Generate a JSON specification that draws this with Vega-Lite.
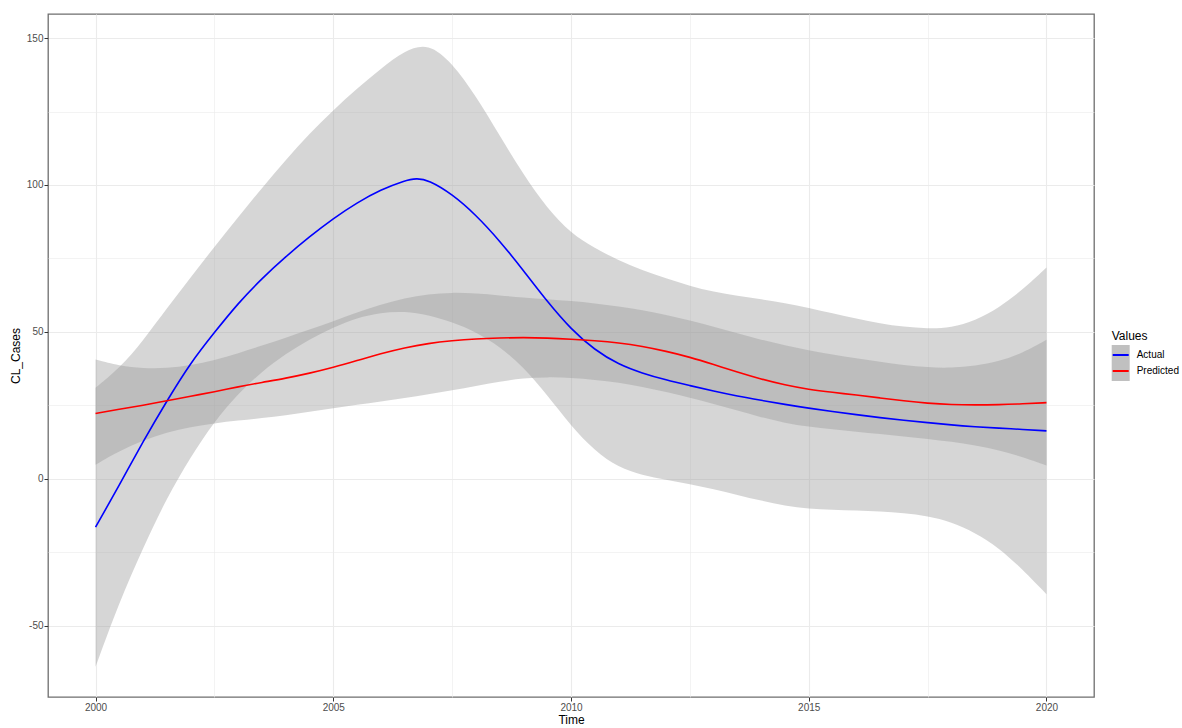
{
  "$schema": "https://vega.github.io/schema/vega-lite/v6.json",
  "width": 1046,
  "height": 683,
  "autosize": {"type": "none"},
  "padding": {"left": 48, "top": 14, "right": 88, "bottom": 31},
  "background": "white",
  "config": {
    "font": "Liberation Sans",
    "view": {"stroke": "#6e6e6e", "strokeWidth": 1.3},
    "axis": {"titleFontWeight": "normal", "titleColor": "#000000", "titleFont": "Liberation Sans", "labelFont": "Liberation Sans"},
    "legend": {"titleFont": "Liberation Sans", "labelFont": "Liberation Sans"}
  },
  "datasets": {
    "lines": [
      {"Time": 2000, "Values": "Actual", "CL_Cases": -16.5},
      {"Time": 2000.5, "Values": "Actual", "CL_Cases": -2.2},
      {"Time": 2001, "Values": "Actual", "CL_Cases": 12.7},
      {"Time": 2001.5, "Values": "Actual", "CL_Cases": 26.5},
      {"Time": 2002, "Values": "Actual", "CL_Cases": 39.5},
      {"Time": 2002.5, "Values": "Actual", "CL_Cases": 49.8},
      {"Time": 2003, "Values": "Actual", "CL_Cases": 59.8},
      {"Time": 2003.5, "Values": "Actual", "CL_Cases": 68.2},
      {"Time": 2004, "Values": "Actual", "CL_Cases": 75.6},
      {"Time": 2004.5, "Values": "Actual", "CL_Cases": 82.4},
      {"Time": 2005, "Values": "Actual", "CL_Cases": 88.6},
      {"Time": 2005.5, "Values": "Actual", "CL_Cases": 94.0},
      {"Time": 2006, "Values": "Actual", "CL_Cases": 98.4},
      {"Time": 2006.5, "Values": "Actual", "CL_Cases": 101.5},
      {"Time": 2006.75, "Values": "Actual", "CL_Cases": 102.3},
      {"Time": 2007, "Values": "Actual", "CL_Cases": 101.7},
      {"Time": 2007.5, "Values": "Actual", "CL_Cases": 96.9},
      {"Time": 2008, "Values": "Actual", "CL_Cases": 89.8},
      {"Time": 2008.5, "Values": "Actual", "CL_Cases": 81.0},
      {"Time": 2009, "Values": "Actual", "CL_Cases": 70.9},
      {"Time": 2009.5, "Values": "Actual", "CL_Cases": 60.3},
      {"Time": 2010, "Values": "Actual", "CL_Cases": 50.9},
      {"Time": 2010.5, "Values": "Actual", "CL_Cases": 43.8},
      {"Time": 2011, "Values": "Actual", "CL_Cases": 38.9},
      {"Time": 2011.5, "Values": "Actual", "CL_Cases": 35.9},
      {"Time": 2012, "Values": "Actual", "CL_Cases": 33.6},
      {"Time": 2012.5, "Values": "Actual", "CL_Cases": 31.7},
      {"Time": 2013, "Values": "Actual", "CL_Cases": 29.8},
      {"Time": 2013.5, "Values": "Actual", "CL_Cases": 28.1},
      {"Time": 2014, "Values": "Actual", "CL_Cases": 26.7},
      {"Time": 2014.5, "Values": "Actual", "CL_Cases": 25.3},
      {"Time": 2015, "Values": "Actual", "CL_Cases": 24.0},
      {"Time": 2015.5, "Values": "Actual", "CL_Cases": 22.9},
      {"Time": 2016, "Values": "Actual", "CL_Cases": 21.8},
      {"Time": 2016.5, "Values": "Actual", "CL_Cases": 20.8},
      {"Time": 2017, "Values": "Actual", "CL_Cases": 19.9},
      {"Time": 2017.5, "Values": "Actual", "CL_Cases": 19.1},
      {"Time": 2018, "Values": "Actual", "CL_Cases": 18.3},
      {"Time": 2018.5, "Values": "Actual", "CL_Cases": 17.7},
      {"Time": 2019, "Values": "Actual", "CL_Cases": 17.2},
      {"Time": 2019.5, "Values": "Actual", "CL_Cases": 16.8},
      {"Time": 2020, "Values": "Actual", "CL_Cases": 16.3},
      {"Time": 2000, "Values": "Predicted", "CL_Cases": 22.2},
      {"Time": 2000.5, "Values": "Predicted", "CL_Cases": 23.7},
      {"Time": 2001, "Values": "Predicted", "CL_Cases": 25.0},
      {"Time": 2001.5, "Values": "Predicted", "CL_Cases": 26.5},
      {"Time": 2002, "Values": "Predicted", "CL_Cases": 28.1},
      {"Time": 2002.5, "Values": "Predicted", "CL_Cases": 29.6},
      {"Time": 2003, "Values": "Predicted", "CL_Cases": 31.3},
      {"Time": 2003.5, "Values": "Predicted", "CL_Cases": 32.8},
      {"Time": 2004, "Values": "Predicted", "CL_Cases": 34.2},
      {"Time": 2004.5, "Values": "Predicted", "CL_Cases": 35.9},
      {"Time": 2005, "Values": "Predicted", "CL_Cases": 37.9},
      {"Time": 2005.5, "Values": "Predicted", "CL_Cases": 40.2},
      {"Time": 2006, "Values": "Predicted", "CL_Cases": 42.6},
      {"Time": 2006.5, "Values": "Predicted", "CL_Cases": 44.6},
      {"Time": 2007, "Values": "Predicted", "CL_Cases": 46.1},
      {"Time": 2007.5, "Values": "Predicted", "CL_Cases": 47.0},
      {"Time": 2008, "Values": "Predicted", "CL_Cases": 47.6},
      {"Time": 2008.5, "Values": "Predicted", "CL_Cases": 47.9},
      {"Time": 2009, "Values": "Predicted", "CL_Cases": 48.1},
      {"Time": 2009.5, "Values": "Predicted", "CL_Cases": 47.9},
      {"Time": 2010, "Values": "Predicted", "CL_Cases": 47.5},
      {"Time": 2010.5, "Values": "Predicted", "CL_Cases": 47.0},
      {"Time": 2011, "Values": "Predicted", "CL_Cases": 46.3},
      {"Time": 2011.5, "Values": "Predicted", "CL_Cases": 45.1},
      {"Time": 2012, "Values": "Predicted", "CL_Cases": 43.4},
      {"Time": 2012.5, "Values": "Predicted", "CL_Cases": 41.4},
      {"Time": 2013, "Values": "Predicted", "CL_Cases": 38.9},
      {"Time": 2013.5, "Values": "Predicted", "CL_Cases": 36.3},
      {"Time": 2014, "Values": "Predicted", "CL_Cases": 33.9},
      {"Time": 2014.5, "Values": "Predicted", "CL_Cases": 31.9},
      {"Time": 2015, "Values": "Predicted", "CL_Cases": 30.4},
      {"Time": 2015.5, "Values": "Predicted", "CL_Cases": 29.4},
      {"Time": 2016, "Values": "Predicted", "CL_Cases": 28.5},
      {"Time": 2016.5, "Values": "Predicted", "CL_Cases": 27.5},
      {"Time": 2017, "Values": "Predicted", "CL_Cases": 26.5},
      {"Time": 2017.5, "Values": "Predicted", "CL_Cases": 25.7},
      {"Time": 2018, "Values": "Predicted", "CL_Cases": 25.2},
      {"Time": 2018.5, "Values": "Predicted", "CL_Cases": 25.1},
      {"Time": 2019, "Values": "Predicted", "CL_Cases": 25.2},
      {"Time": 2019.5, "Values": "Predicted", "CL_Cases": 25.5},
      {"Time": 2020, "Values": "Predicted", "CL_Cases": 25.9}
    ],
    "bands": [
      {"Time": 2000, "Band": "Actual", "lower": -64, "upper": 31},
      {"Time": 2000.5, "Band": "Actual", "lower": -42, "upper": 37.5},
      {"Time": 2001, "Band": "Actual", "lower": -23.5, "upper": 47},
      {"Time": 2001.5, "Band": "Actual", "lower": -6.5, "upper": 58},
      {"Time": 2002, "Band": "Actual", "lower": 7.5, "upper": 68.5},
      {"Time": 2002.5, "Band": "Actual", "lower": 19.5, "upper": 79},
      {"Time": 2003, "Band": "Actual", "lower": 29, "upper": 89},
      {"Time": 2003.5, "Band": "Actual", "lower": 36.5, "upper": 99},
      {"Time": 2004, "Band": "Actual", "lower": 42.5, "upper": 108.5},
      {"Time": 2004.5, "Band": "Actual", "lower": 47.5, "upper": 117.5},
      {"Time": 2005, "Band": "Actual", "lower": 51.5, "upper": 125.5},
      {"Time": 2005.5, "Band": "Actual", "lower": 54.8, "upper": 132.8},
      {"Time": 2006, "Band": "Actual", "lower": 56.6, "upper": 139.6},
      {"Time": 2006.5, "Band": "Actual", "lower": 57, "upper": 145.8},
      {"Time": 2007, "Band": "Actual", "lower": 55.8, "upper": 148.4},
      {"Time": 2007.5, "Band": "Actual", "lower": 53.3, "upper": 141.6},
      {"Time": 2008, "Band": "Actual", "lower": 50, "upper": 130.3},
      {"Time": 2008.5, "Band": "Actual", "lower": 45, "upper": 116.8},
      {"Time": 2009, "Band": "Actual", "lower": 38, "upper": 103.5},
      {"Time": 2009.5, "Band": "Actual", "lower": 28.5, "upper": 92},
      {"Time": 2010, "Band": "Actual", "lower": 18, "upper": 83.5},
      {"Time": 2010.5, "Band": "Actual", "lower": 9.5, "upper": 78.5},
      {"Time": 2011, "Band": "Actual", "lower": 3.8, "upper": 74.3},
      {"Time": 2011.5, "Band": "Actual", "lower": 1.2, "upper": 71},
      {"Time": 2012, "Band": "Actual", "lower": -0.4, "upper": 68.2},
      {"Time": 2012.5, "Band": "Actual", "lower": -1.8, "upper": 65.6},
      {"Time": 2013, "Band": "Actual", "lower": -3.5, "upper": 63.6},
      {"Time": 2013.5, "Band": "Actual", "lower": -5.5, "upper": 62.2},
      {"Time": 2014, "Band": "Actual", "lower": -7.5, "upper": 61.1},
      {"Time": 2014.5, "Band": "Actual", "lower": -9.2, "upper": 59.8},
      {"Time": 2015, "Band": "Actual", "lower": -10.2, "upper": 58.2},
      {"Time": 2015.5, "Band": "Actual", "lower": -10.6, "upper": 56.3},
      {"Time": 2016, "Band": "Actual", "lower": -10.8, "upper": 54.5},
      {"Time": 2016.5, "Band": "Actual", "lower": -11.1, "upper": 52.9},
      {"Time": 2017, "Band": "Actual", "lower": -11.7, "upper": 51.7},
      {"Time": 2017.5, "Band": "Actual", "lower": -12.7, "upper": 51.1},
      {"Time": 2018, "Band": "Actual", "lower": -14.7, "upper": 51.4},
      {"Time": 2018.5, "Band": "Actual", "lower": -18.4, "upper": 53.8},
      {"Time": 2019, "Band": "Actual", "lower": -23.5, "upper": 58.2},
      {"Time": 2019.5, "Band": "Actual", "lower": -30.9, "upper": 64.3},
      {"Time": 2020, "Band": "Actual", "lower": -39.3, "upper": 71.9},
      {"Time": 2000, "Band": "Predicted", "lower": 4.8, "upper": 40.6},
      {"Time": 2000.5, "Band": "Predicted", "lower": 9.4, "upper": 38.4},
      {"Time": 2001, "Band": "Predicted", "lower": 13.1, "upper": 37.6},
      {"Time": 2001.5, "Band": "Predicted", "lower": 15.8, "upper": 37.6},
      {"Time": 2002, "Band": "Predicted", "lower": 17.6, "upper": 38.6},
      {"Time": 2002.5, "Band": "Predicted", "lower": 18.9, "upper": 40.3},
      {"Time": 2003, "Band": "Predicted", "lower": 19.8, "upper": 42.7},
      {"Time": 2003.5, "Band": "Predicted", "lower": 20.6, "upper": 45.3},
      {"Time": 2004, "Band": "Predicted", "lower": 21.6, "upper": 48},
      {"Time": 2004.5, "Band": "Predicted", "lower": 22.8, "upper": 50.8},
      {"Time": 2005, "Band": "Predicted", "lower": 24, "upper": 53.6},
      {"Time": 2005.5, "Band": "Predicted", "lower": 25.2, "upper": 56.6},
      {"Time": 2006, "Band": "Predicted", "lower": 26.3, "upper": 59.3},
      {"Time": 2006.5, "Band": "Predicted", "lower": 27.5, "upper": 61.5},
      {"Time": 2007, "Band": "Predicted", "lower": 28.8, "upper": 62.9},
      {"Time": 2007.5, "Band": "Predicted", "lower": 30.1, "upper": 63.4},
      {"Time": 2008, "Band": "Predicted", "lower": 31.6, "upper": 63.1},
      {"Time": 2008.5, "Band": "Predicted", "lower": 33.1, "upper": 62.4},
      {"Time": 2009, "Band": "Predicted", "lower": 34.2, "upper": 61.7},
      {"Time": 2009.5, "Band": "Predicted", "lower": 34.6, "upper": 61.1},
      {"Time": 2010, "Band": "Predicted", "lower": 34.4, "upper": 60.5},
      {"Time": 2010.5, "Band": "Predicted", "lower": 33.7, "upper": 59.7},
      {"Time": 2011, "Band": "Predicted", "lower": 32.7, "upper": 58.7},
      {"Time": 2011.5, "Band": "Predicted", "lower": 31.3, "upper": 57.4},
      {"Time": 2012, "Band": "Predicted", "lower": 29.6, "upper": 55.8},
      {"Time": 2012.5, "Band": "Predicted", "lower": 27.6, "upper": 53.9},
      {"Time": 2013, "Band": "Predicted", "lower": 25.5, "upper": 51.7},
      {"Time": 2013.5, "Band": "Predicted", "lower": 23.2, "upper": 49.5},
      {"Time": 2014, "Band": "Predicted", "lower": 20.9, "upper": 47.3},
      {"Time": 2014.5, "Band": "Predicted", "lower": 19, "upper": 45.4},
      {"Time": 2015, "Band": "Predicted", "lower": 17.7, "upper": 43.7},
      {"Time": 2015.5, "Band": "Predicted", "lower": 16.8, "upper": 42.2},
      {"Time": 2016, "Band": "Predicted", "lower": 16, "upper": 41},
      {"Time": 2016.5, "Band": "Predicted", "lower": 15.2, "upper": 39.8},
      {"Time": 2017, "Band": "Predicted", "lower": 14.4, "upper": 38.7},
      {"Time": 2017.5, "Band": "Predicted", "lower": 13.6, "upper": 37.9},
      {"Time": 2018, "Band": "Predicted", "lower": 12.6, "upper": 37.7},
      {"Time": 2018.5, "Band": "Predicted", "lower": 11.4, "upper": 38.4},
      {"Time": 2019, "Band": "Predicted", "lower": 9.7, "upper": 39.9},
      {"Time": 2019.5, "Band": "Predicted", "lower": 7.4, "upper": 42.8},
      {"Time": 2020, "Band": "Predicted", "lower": 4.5, "upper": 47.3}
    ]
  },
  "encoding": {
    "x": {
      "field": "Time",
      "type": "quantitative",
      "title": "Time",
      "scale": {"domain": [1999, 2021], "nice": false, "zero": false},
      "axis": {
        "values": [2000, 2002.5, 2005, 2007.5, 2010, 2012.5, 2015, 2017.5, 2020],
        "labelExpr": "datum.value % 5 === 0 ? toString(datum.value) : ''",
        "labelOverlap": false,
        "labelFlush": false,
        "domain": false,
        "grid": true,
        "gridColor": "#ebebeb",
        "gridWidth": {"condition": {"test": "datum.value % 5 === 0", "value": 1.1}, "value": 0.6},
        "tickColor": "#333333",
        "tickOpacity": {"condition": {"test": "datum.value % 5 === 0", "value": 1}, "value": 0},
        "tickSize": 4,
        "labelFontSize": 10,
        "labelColor": "#4d4d4d",
        "labelPadding": 1,
        "titleFontSize": 12,
        "titlePadding": 2
      }
    }
  },
  "layer": [
    {
      "data": {"name": "bands"},
      "mark": {"type": "area", "opacity": 0.4, "interpolate": "basis"},
      "encoding": {
        "y": {
          "field": "lower",
          "type": "quantitative",
          "title": "CL_Cases",
          "scale": {"domain": [-74.3, 158.2], "nice": false, "zero": false},
          "axis": {
            "values": [-50, -25, 0, 25, 50, 75, 100, 125, 150],
            "labelExpr": "datum.value % 50 === 0 ? toString(datum.value) : ''",
            "labelOverlap": false,
            "labelFlush": false,
            "domain": false,
            "grid": true,
            "gridColor": "#ebebeb",
            "gridWidth": {"condition": {"test": "datum.value % 50 === 0", "value": 1.1}, "value": 0.6},
            "tickColor": "#333333",
            "tickOpacity": {"condition": {"test": "datum.value % 50 === 0", "value": 1}, "value": 0},
            "tickSize": 4,
            "labelFontSize": 10,
            "labelColor": "#4d4d4d",
            "labelPadding": 1,
            "titleFontSize": 12,
            "titlePadding": 4
          }
        },
        "y2": {"field": "upper"},
        "fill": {
          "field": "Band",
          "type": "nominal",
          "scale": {"range": ["#999999", "#999999"]},
          "legend": {
            "title": "Values",
            "orient": "none",
            "legendX": 1063.7,
            "legendY": 317,
            "padding": 0,
            "titleFontSize": 12,
            "titleFontWeight": "normal",
            "titlePadding": 2,
            "titleOpacity": 0,
            "labelOpacity": 0,
            "labelFontSize": 10,
            "labelOffset": 5,
            "symbolType": "square",
            "symbolSize": 324,
            "symbolOpacity": 0.62,
            "symbolStrokeWidth": 0,
            "rowPadding": 0,
            "zindex": 0
          }
        }
      }
    },
    {
      "data": {"name": "lines"},
      "mark": {"type": "line", "strokeWidth": 1.6, "interpolate": "basis"},
      "encoding": {
        "y": {
          "field": "CL_Cases",
          "type": "quantitative",
          "title": "CL_Cases",
          "scale": {"domain": [-74.3, 158.2], "nice": false, "zero": false},
          "axis": {
            "values": [-50, -25, 0, 25, 50, 75, 100, 125, 150],
            "labelExpr": "datum.value % 50 === 0 ? toString(datum.value) : ''",
            "labelOverlap": false,
            "labelFlush": false,
            "domain": false,
            "grid": true,
            "gridColor": "#ebebeb",
            "gridWidth": {"condition": {"test": "datum.value % 50 === 0", "value": 1.1}, "value": 0.6},
            "tickColor": "#333333",
            "tickOpacity": {"condition": {"test": "datum.value % 50 === 0", "value": 1}, "value": 0},
            "tickSize": 4,
            "labelFontSize": 10,
            "labelColor": "#4d4d4d",
            "labelPadding": 1,
            "titleFontSize": 12,
            "titlePadding": 4
          }
        },
        "stroke": {
          "field": "Values",
          "type": "nominal",
          "scale": {"range": ["#0000ff", "#ff0000"]},
          "legend": {
            "title": "Values",
            "orient": "none",
            "legendX": 1063.7,
            "legendY": 317,
            "padding": 0,
            "titleFontSize": 12,
            "titleFontWeight": "normal",
            "titleColor": "#000000",
            "titlePadding": 3,
            "labelFontSize": 10,
            "labelColor": "#000000",
            "labelOffset": 7,
            "symbolType": "stroke",
            "symbolSize": 256,
            "symbolStrokeWidth": 2,
            "rowPadding": 2,
            "zindex": 1
          }
        }
      }
    }
  ]
}
